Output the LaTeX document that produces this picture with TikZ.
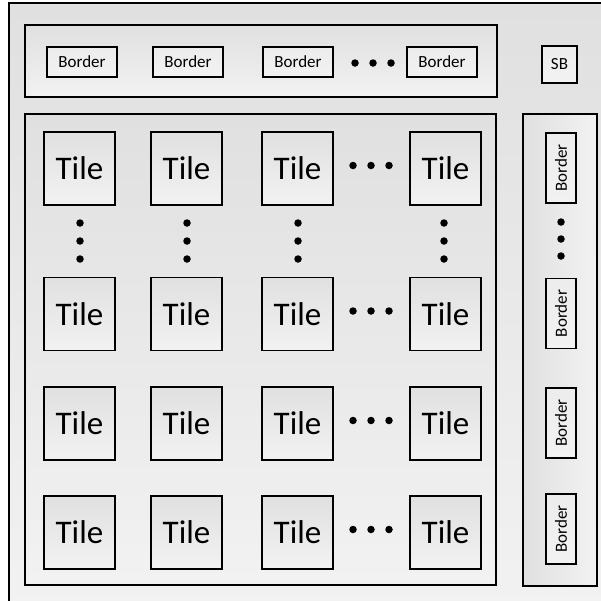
\documentclass[tikz,border=0pt]{standalone}
\usepackage{fontspec}
\setmainfont{Carlito}
\definecolor{shadeDark}{HTML}{E0E0E0}
\definecolor{shadeLight}{HTML}{F2F2F2}
\begin{document}
\begin{tikzpicture}[x=1pt, y=-1pt,
    panel/.style={draw=black, line width=1.6pt, top color=shadeDark, bottom color=shadeLight},
    tile/.style={draw=black, line width=1.3pt, top color=shadeDark, bottom color=shadeLight,
                 minimum width=71pt, minimum height=73pt, inner sep=0pt,
                 font=\fontsize{33}{38}\selectfont},
    brd/.style={draw=black, line width=1.3pt, top color=shadeDark!60!white, bottom color=shadeLight,
                minimum width=70pt, minimum height=30pt, inner sep=0pt,
                font=\fontsize{17}{20}\selectfont},
    dot/.style={circle, fill=black, inner sep=0pt, minimum size=7.5pt}]
    \useasboundingbox (0,0) rectangle (601,600);
    % frame and panels
    \path[panel] (9,3) rectangle (612,612);
    \path[panel] (25,25) rectangle (497,97);
    \path[panel] (25,114) rectangle (496,585);
    \path[draw=black, line width=1.6pt, left color=shadeDark, right color=shadeLight] (523,114) rectangle (597,586);
    % top border row
    \foreach \x/\n in {82/1, 188/2, 298/3, 442/4} {
        \node[brd] (b\n) at (\x,62) {Border};
    }
    \foreach \x/\n in {355/1, 373/2, 391/3} {
        \node[dot] (bd\n) at (\x,63) {};
    }
    \node[brd, minimum width=35pt, minimum height=37pt] (sb) at (559.5,64.5) {SB};
    % tiles
    \foreach \y/\r in {168.5/1, 314/2, 423.5/3, 532.5/4} {
        \foreach \x/\c in {79.5/1, 186.5/2, 297.5/3, 445.5/4} {
            \node[tile] (t\r\c) at (\x,\y) {Tile};
        }
        \foreach \x/\n in {353/1, 371/2, 389/3} {
            \node[dot] (td\r\n) at (\x,\y-3) {};
        }
    }
    \foreach \x/\c in {80/1, 187/2, 298/3, 444/4} {
        \foreach \y/\n in {223/1, 241/2, 259/3} {
            \node[dot] (vd\c\n) at (\x,\y) {};
        }
    }
    % side border column
    \foreach \y/\n in {168/1, 313.5/2, 423/3, 529/4} {
        \node[brd, rotate=90] (s\n) at (561,\y) {Border};
    }
    \foreach \y/\n in {222/1, 239/2, 256/3} {
        \node[dot] (sd\n) at (561,\y) {};
    }
\end{tikzpicture}
\end{document}
